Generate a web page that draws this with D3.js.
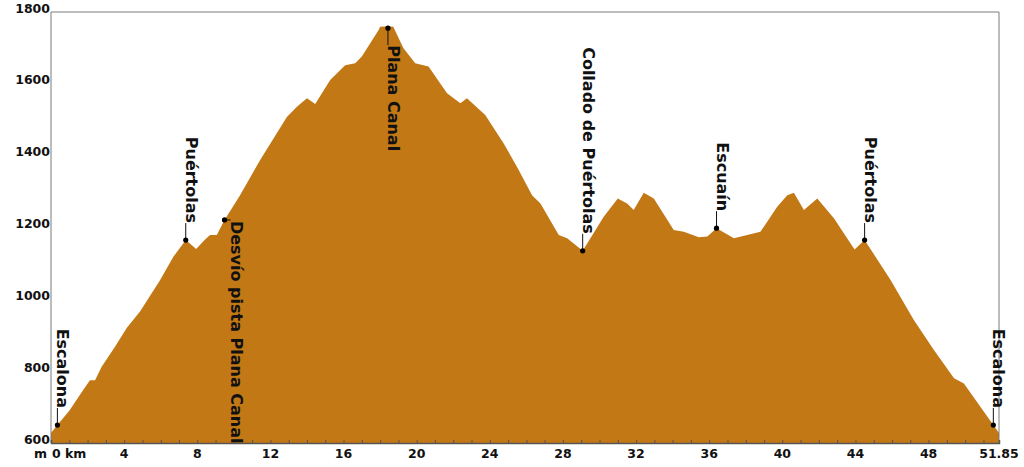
<!DOCTYPE html>
<html>
<head>
<meta charset="utf-8">
<script src="https://cdn.jsdelivr.net/npm/d3@7"></script>
<style>
  body { margin: 0; background: #fff; }
  text { font-family: "DejaVu Sans", sans-serif; font-weight: bold; fill: #111; }
</style>
</head>
<body>
<div id="viz-container"></div>
<script>
// profile: distance (km) and elevation (m)
const distKm = [0, 0.35, 1.0, 1.77, 2.13, 2.41, 2.77, 3.5, 4.14, 4.87, 5.97, 6.7, 7.37, 7.94, 8.4, 8.7, 9.07, 9.49,
  10.34, 11.44, 12.9, 13.45, 14.0, 14.45, 15.27, 16.09, 16.64, 17.0, 17.92, 18.0, 18.43, 18.72, 19.27, 19.92,
  20.65, 21.66, 22.39, 22.75, 23.75, 24.76, 25.58, 26.31, 26.77, 27.77, 28.23, 29.08, 30.23, 31.0, 31.51,
  31.87, 32.42, 32.97, 34.06, 34.61, 35.43, 35.9, 36.4, 37.35, 38.08, 38.8, 39.72, 40.27, 40.63, 41.18,
  41.91, 42.82, 43.95, 44.5, 45.92, 47.2, 48.29, 49.39, 49.93, 51.54, 51.85];
const elevM = [628, 650, 690, 748, 775, 775, 812, 868, 920, 966, 1054, 1119, 1165, 1140, 1165, 1179, 1179, 1221,
  1290, 1388, 1508, 1536, 1560, 1544, 1611, 1652, 1657, 1676, 1750, 1759, 1760, 1759, 1700, 1657,
  1648, 1574, 1546, 1560, 1513, 1434, 1360, 1290, 1267, 1179, 1170, 1135, 1230, 1281, 1267,
  1249, 1297, 1281, 1193, 1188, 1173, 1175, 1198, 1170, 1179, 1188, 1258, 1290, 1297, 1249,
  1281, 1226, 1139, 1165, 1054, 942, 859, 780, 766, 650, 628];

// waypoints
const wpNames = ["Escalona", "Puértolas", "Desvío pista Plana Canal", "Plana Canal",
  "Collado de Puértolas", "Escuaín", "Puértolas", "Escalona"];
const wpKm = [0.35, 7.37, 9.49, 18.43, 29.08, 36.4, 44.5, 51.54];
const wpElev = [650, 1165, 1221, 1755, 1135, 1198, 1165, 650];
const wpSide = ["up", "up", "side", "down", "up", "up", "up", "up"];

// axis ticks
const yTicks = [600, 800, 1000, 1200, 1400, 1600, 1800];
const xTicks = [0, 4, 8, 12, 16, 20, 24, 28, 32, 36, 40, 44, 48, 51.85];
const xTickLabels = ["0 km", "4", "8", "12", "16", "20", "24", "28", "32", "36", "40", "44", "48", "51.85"];

let W = 1024, H = 467;
let plotLeft = 51, plotRight = 999, plotTop = 12, plotBottom = 443;

let viz = d3.select("#viz-container")
              .append("svg")
                .attr("width", W)
                .attr("height", H)
;

let x = d3.scaleLinear().domain([0, 51.85]).range([plotLeft, plotRight]);
let y = d3.scaleLinear().domain([600, 1800]).range([plotBottom, plotTop]);

let profile = distKm.map((d, i) => [d, elevM[i]]);

let area = d3.area()
    .x(d => x(d[0]))
    .y0(y(600))
    .y1(d => y(d[1]));

viz.append("path")
    .datum(profile)
    .attr("d", area)
    .attr("fill", "#c27814")
;

// frame: top, left and right grey
viz.append("path")
    .attr("d", "M" + plotLeft + "," + plotBottom + "V" + plotTop + "H" + plotRight + "V" + plotBottom)
    .attr("fill", "none")
    .attr("stroke", "#7a7a7a")
    .attr("stroke-width", 1)
;

// bottom axis with small inward km ticks
let xAxis = d3.axisBottom(x)
    .tickValues(d3.range(0, 52))
    .tickSize(-3)
    .tickFormat("");
let gx = viz.append("g")
    .attr("transform", "translate(0," + plotBottom + ")")
    .call(xAxis);
gx.select(".domain").attr("stroke", "#555").attr("stroke-width", 1.5);
gx.selectAll(".tick line").attr("stroke", "#555");

viz.selectAll(".xlabel").data(xTicks).enter().append("text")
    .attr("class", "xlabel")
    .attr("x", (d, i) => i == 0 ? x(d) + 1 : x(d))
    .attr("y", 458)
    .attr("text-anchor", (d, i) => i == 0 ? "start" : "middle")
    .style("font-size", "12.5px")
    .text((d, i) => xTickLabels[i])
;
viz.append("text")
    .attr("x", plotLeft - 4)
    .attr("y", 458)
    .attr("text-anchor", "end")
    .style("font-size", "12.5px")
    .text("m")
;

// y labels
viz.selectAll(".ylabel").data(yTicks).enter().append("text")
    .attr("class", "ylabel")
    .attr("x", plotLeft - 1)
    .attr("y", d => y(d) + 0.5)
    .attr("text-anchor", "end")
    .style("font-size", "12.5px")
    .text(d => d)
;

// waypoints
let gap = 17;
let wps = viz.selectAll(".wp").data(wpNames).enter().append("g")
    .attr("class", "wp")
    .attr("transform", (d, i) => "translate(" + x(wpKm[i]) + "," + y(wpElev[i]) + ")")
;

wps.append("line")
    .attr("x1", 0).attr("y1", 0)
    .attr("x2", (d, i) => wpSide[i] == "side" ? 6 : 0)
    .attr("y2", (d, i) => wpSide[i] == "up" ? -gap : (wpSide[i] == "down" ? gap : 0))
    .attr("stroke", "#111")
    .attr("stroke-width", 1)
;

wps.append("circle")
    .attr("r", 2.6)
    .attr("fill", "#000")
;

wps.append("text")
    .attr("transform", (d, i) => {
        if (wpSide[i] == "up") return "translate(0," + (-gap) + ") rotate(90)";
        if (wpSide[i] == "down") return "translate(0," + gap + ") rotate(90)";
        return "translate(6,1) rotate(90)";
    })
    .attr("text-anchor", (d, i) => wpSide[i] == "up" ? "end" : "start")
    .style("font-size", "16px")
    .text(d => d)
;
</script>
</body>
</html>
